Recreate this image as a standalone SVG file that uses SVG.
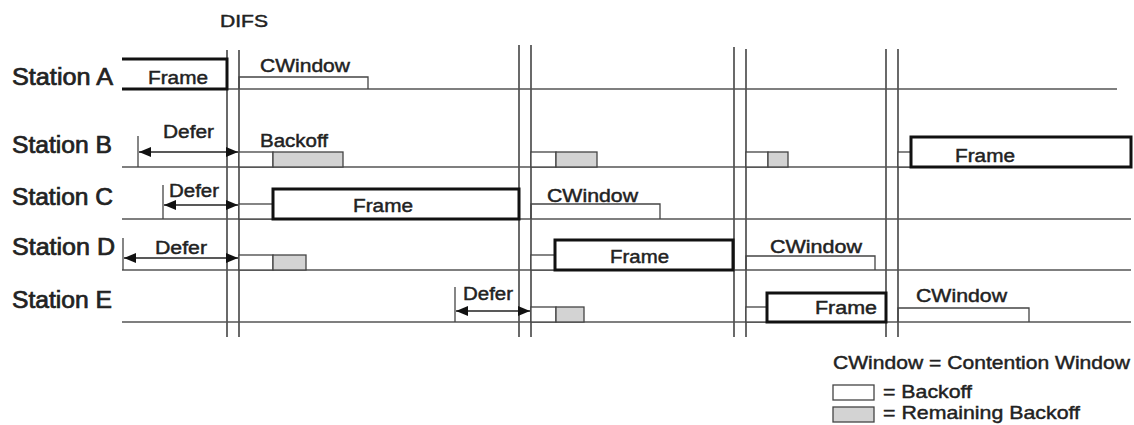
<svg xmlns="http://www.w3.org/2000/svg" width="1134" height="425" viewBox="0 0 1134 425">
<defs>
<style>
text{font-family:"Liberation Sans",Arial,sans-serif;fill:#222;stroke:#222;stroke-width:0.45;}
.st{font-size:23px;stroke-width:0.7;}
.lb{font-size:18px;}
.lg{font-size:19px;}
.base{stroke:#555;stroke-width:1.6;fill:none;}
.vl{stroke:#444;stroke-width:1.6;fill:none;}
.bo{fill:#fff;stroke:#444;stroke-width:1.3;}
.rb{fill:#d3d3d3;stroke:#444;stroke-width:1.3;}
.fr{fill:#fff;stroke:#111;stroke-width:3;}
.thk{stroke:#111;stroke-width:3;fill:none;}
.cw{fill:none;stroke:#444;stroke-width:1.3;}
.tick{stroke:#444;stroke-width:1.3;}
.arr{stroke:#222;stroke-width:1.5;marker-start:url(#ah);marker-end:url(#ah);}
</style>
<marker id="ah" viewBox="0 0 12 10" refX="12" refY="5" markerWidth="12" markerHeight="10" markerUnits="userSpaceOnUse" orient="auto-start-reverse">
<path d="M0,0 L12,5 L0,10 Z" fill="#111"/>
</marker>
</defs>
<rect width="1134" height="425" fill="#fff"/>

<g id="slots">
<line class="vl" x1="227" y1="50" x2="227" y2="337"/>
<line class="vl" x1="239" y1="50" x2="239" y2="337"/>
<line class="vl" x1="519" y1="45" x2="519" y2="337"/>
<line class="vl" x1="531" y1="45" x2="531" y2="337"/>
<line class="vl" x1="734" y1="47" x2="734" y2="337"/>
<line class="vl" x1="746" y1="49" x2="746" y2="337"/>
<line class="vl" x1="886" y1="49" x2="886" y2="337"/>
<line class="vl" x1="898" y1="49" x2="898" y2="337"/>
<text x="220" y="27" font-size="17" textLength="48" lengthAdjust="spacingAndGlyphs">DIFS</text>
</g>

<g id="stationA">
<text class="st" x="12" y="85" textLength="101" lengthAdjust="spacingAndGlyphs">Station A</text>
<line class="base" x1="122" y1="89" x2="1117" y2="89"/>
<path class="thk" d="M122,59 H227 V89 H122"/>
<text class="lb" x="148" y="84" font-size="17" textLength="60" lengthAdjust="spacingAndGlyphs">Frame</text>
<path class="cw" d="M239,89 V77 H368 V89"/>
<text class="lb" x="260" y="72" textLength="90" lengthAdjust="spacingAndGlyphs">CWindow</text>
</g>

<g id="stationB">
<text class="st" x="12" y="153" textLength="100" lengthAdjust="spacingAndGlyphs">Station B</text>
<line class="base" x1="122" y1="167" x2="1132" y2="167"/>
<line class="tick" x1="138" y1="136" x2="138" y2="167"/>
<text class="lb" x="163" y="138" textLength="51" lengthAdjust="spacingAndGlyphs">Defer</text>
<text class="lb" x="260" y="147" textLength="68" lengthAdjust="spacingAndGlyphs">Backoff</text>
<rect class="bo" x="239" y="152" width="34" height="15"/>
<rect class="rb" x="273" y="152" width="70" height="15"/>
<rect class="bo" x="531" y="152" width="25" height="15"/>
<rect class="rb" x="556" y="152" width="41" height="15"/>
<rect class="bo" x="746" y="152" width="22" height="15"/>
<rect class="rb" x="768" y="152" width="20" height="15"/>
<rect class="bo" x="898" y="152" width="13" height="15"/>
<rect class="fr" x="911" y="137" width="220" height="30"/>
<text class="lb" x="955" y="162" textLength="60" lengthAdjust="spacingAndGlyphs">Frame</text>
</g>

<g id="stationC">
<text class="st" x="12" y="205" textLength="101" lengthAdjust="spacingAndGlyphs">Station C</text>
<line class="base" x1="122" y1="219" x2="1131" y2="219"/>
<line class="tick" x1="163" y1="185" x2="163" y2="219"/>
<text class="lb" x="169" y="197" textLength="50" lengthAdjust="spacingAndGlyphs">Defer</text>
<rect class="bo" x="239" y="204" width="34" height="15"/>
<rect class="fr" x="273" y="189" width="246" height="30"/>
<text class="lb" x="353" y="212" textLength="60" lengthAdjust="spacingAndGlyphs">Frame</text>
<path class="cw" d="M531,219 V204 H660 V219"/>
<text class="lb" x="547" y="202" textLength="91" lengthAdjust="spacingAndGlyphs">CWindow</text>
</g>

<g id="stationD">
<text class="st" x="12" y="255" textLength="103" lengthAdjust="spacingAndGlyphs">Station D</text>
<line class="base" x1="122" y1="270" x2="1131" y2="270"/>
<line class="tick" x1="123" y1="238" x2="123" y2="270"/>
<text class="lb" x="155" y="254" textLength="52" lengthAdjust="spacingAndGlyphs">Defer</text>
<rect class="bo" x="239" y="255" width="34" height="15"/>
<rect class="rb" x="273" y="255" width="33" height="15"/>
<rect class="bo" x="531" y="255" width="24" height="15"/>
<rect class="fr" x="555" y="240" width="178" height="30"/>
<text class="lb" x="610" y="263" textLength="59" lengthAdjust="spacingAndGlyphs">Frame</text>
<path class="cw" d="M746,270 V256 H875 V270"/>
<text class="lb" x="770" y="253" textLength="92" lengthAdjust="spacingAndGlyphs">CWindow</text>
</g>

<g id="stationE">
<text class="st" x="12" y="308" textLength="100" lengthAdjust="spacingAndGlyphs">Station E</text>
<line class="base" x1="122" y1="322" x2="1131" y2="322"/>
<line class="tick" x1="455" y1="287" x2="455" y2="322"/>
<text class="lb" x="463" y="300" textLength="50" lengthAdjust="spacingAndGlyphs">Defer</text>
<rect class="bo" x="531" y="307" width="25" height="15"/>
<rect class="rb" x="556" y="307" width="28" height="15"/>
<rect class="bo" x="746" y="307" width="21" height="15"/>
<rect class="fr" x="767" y="293" width="119" height="29"/>
<text class="lb" x="815" y="314" textLength="62" lengthAdjust="spacingAndGlyphs">Frame</text>
<path class="cw" d="M898,322 V308 H1029 V322"/>
<text class="lb" x="916" y="302" textLength="91" lengthAdjust="spacingAndGlyphs">CWindow</text>
</g>

<g id="connectors">
<line class="arr" x1="139" y1="152" x2="238" y2="152"/>
<line class="arr" x1="164" y1="205" x2="238" y2="205"/>
<line class="arr" x1="124" y1="258" x2="238" y2="258"/>
<line class="arr" x1="456" y1="311" x2="530" y2="311"/>
</g>

<g id="legend">
<text class="lg" x="833" y="369" textLength="297" lengthAdjust="spacingAndGlyphs">CWindow = Contention Window</text>
<rect class="bo" x="833" y="385" width="41" height="15"/>
<rect class="rb" x="833" y="407" width="41" height="15"/>
<text class="lg" x="883" y="398" textLength="89" lengthAdjust="spacingAndGlyphs">= Backoff</text>
<text class="lg" x="883" y="419" textLength="197" lengthAdjust="spacingAndGlyphs">= Remaining Backoff</text>
</g>
</svg>
